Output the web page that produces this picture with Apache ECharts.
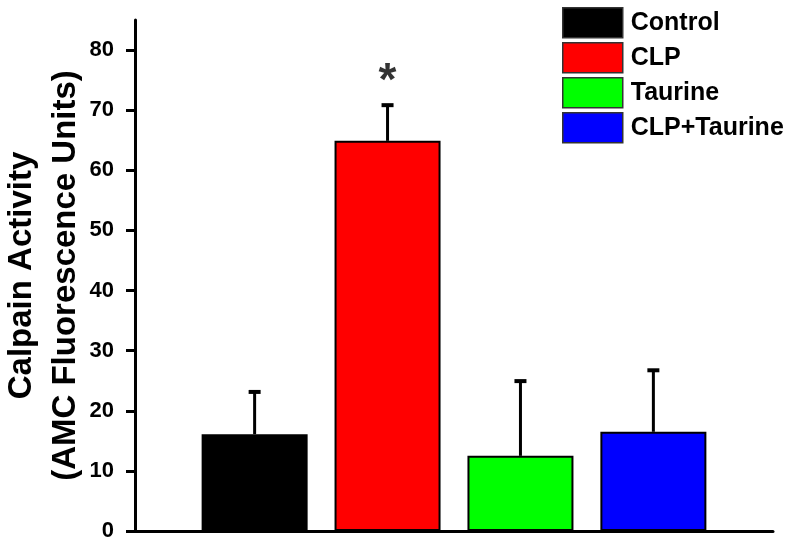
<!DOCTYPE html>
<html>
<head>
<meta charset="utf-8">
<script src="https://cdn.jsdelivr.net/npm/echarts@6/dist/echarts.min.js"></script>
<style>
  html, body { margin: 0; padding: 0; background: #fff; }
  #chart { width: 800px; height: 545px; }
</style>
</head>
<body>
<div id="chart"></div>
<script>
// group data
const groups = ['Control', 'CLP', 'Taurine', 'CLP+Taurine'];
const groupPos = [1, 2, 3, 4];
const means = [16.1, 64.9, 12.5, 16.5];
const errUp = [7.2, 6.1, 12.6, 10.4];
const colors = ['#000000', '#ff0000', '#00ff00', '#0000ff'];
const yTicks = [0, 10, 20, 30, 40, 50, 60, 70, 80];
const marks = [[2, 76, '*']];

const font = "'Liberation Sans', Arial, sans-serif";

const myChart = echarts.init(document.getElementById('chart'));

const barSeries = groups.map((g, i) => {
  return {
    name: g,
    type: 'bar',
    barWidth: 106,
    barGap: '-100%',
    data: [[groupPos[i], means[i]]],
    itemStyle: { color: colors[i], borderColor: '#000', borderWidth: 2 },
    z: 2
  };
});

const errorSeries = {
  type: 'custom',
  silent: true,
  z: 3,
  data: groupPos.map((x, i) => [x, means[i], means[i] + errUp[i]]),
  renderItem(params, api) {
    const lo = api.coord([api.value(0), api.value(1)]);
    const hi = api.coord([api.value(0), api.value(2)]);
    const style = { stroke: '#000', lineWidth: 3 };
    return {
      type: 'group',
      children: [
        { type: 'line', shape: { x1: lo[0], y1: lo[1], x2: hi[0], y2: hi[1] }, style },
        { type: 'line', shape: { x1: hi[0] - 6, y1: hi[1] + 1, x2: hi[0] + 6, y2: hi[1] + 1 }, style: { stroke: '#000', lineWidth: 4 } }
      ]
    };
  }
};

const starSeries = {
  type: 'scatter',
  silent: true,
  symbolSize: 0,
  data: marks,
  label: {
    show: true,
    position: 'inside',
    formatter: (p) => p.data[2],
    color: '#000',
    fontSize: 46,
    fontWeight: 'bold',
    fontFamily: font,
    offset: [0, 8]
  }
};

const option = {
  animation: false,
  textStyle: { fontFamily: font },
  grid: { left: 135, right: 27, top: 20, bottom: 14, containLabel: false, outerBoundsMode: 'none' },
  legend: {
    data: groups,
    orient: 'vertical',
    left: 562,
    top: 7,
    padding: 0,
    itemWidth: 60,
    itemHeight: 30,
    itemGap: 3.5,
    icon: 'rect',
    itemStyle: { borderColor: '#333', borderWidth: 1.5 },
    textStyle: { fontSize: 25, fontWeight: 'bold', color: '#000', fontFamily: font, padding: [0, 0, 0, 3] }
  },
  xAxis: {
    type: 'value',
    min: 0.1,
    max: 4.9,
    axisLine: { show: true, lineStyle: { color: '#000', width: 3 } },
    axisTick: { show: false },
    axisLabel: { show: false },
    splitLine: { show: false }
  },
  yAxis: {
    type: 'value',
    min: 0,
    max: 85,
    name: 'Calpain Activity\n(AMC Fluorescence Units)',
    nameLocation: 'middle',
    nameGap: 47,
    nameMoveOverlap: false,
    nameTextStyle: { fontSize: 33, fontWeight: 'bold', color: '#000', fontFamily: font, lineHeight: 44 },
    axisLine: { show: true, lineStyle: { color: '#000', width: 3 } },
    axisTick: { show: true, length: 9, lineStyle: { color: '#000', width: 3 }, customValues: yTicks },
    axisLabel: { fontSize: 22, fontWeight: 'bold', color: '#000', margin: 21, fontFamily: font, customValues: yTicks },
    splitLine: { show: false }
  },
  series: [...barSeries, errorSeries, starSeries]
};

myChart.setOption(option);
window.addEventListener('resize', function () {
  myChart.resize();
});
</script>
</body>
</html>
